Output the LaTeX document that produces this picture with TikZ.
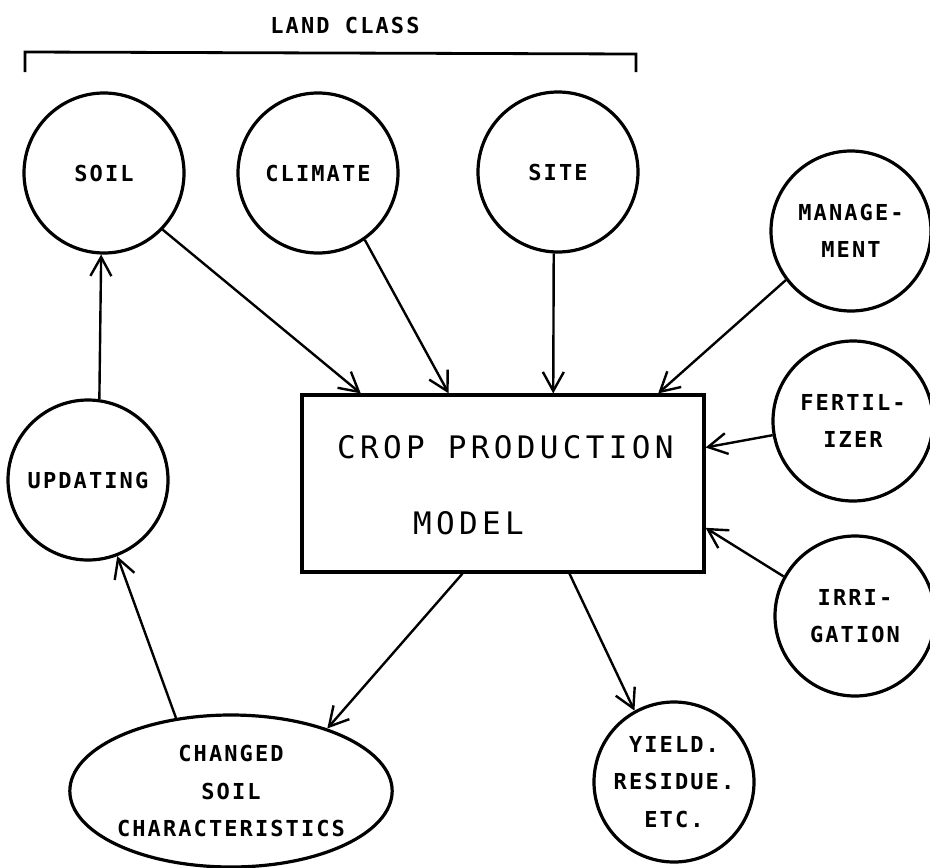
\documentclass[tikz,border=0pt]{standalone}
\usepackage{fontspec}
\newfontfamily\plotfont[LetterSpace=9.5]{DejaVu Sans Mono}
\newfontfamily\boxfont[LetterSpace=14]{DejaVu Sans Mono}
\usetikzlibrary{arrows.meta,shapes.geometric,calc}
\tikzset{
  txt/.style={font=\plotfont\bfseries\fontsize{22}{37.5}\selectfont,align=center},
  bigtxt/.style={font=\boxfont\fontsize{31}{31}\selectfont,inner sep=0pt},
  bubble/.style={circle,draw,line width=3.2pt,minimum size=160pt,inner sep=0pt,txt},
  arr/.style={line width=2.4pt,-{Straight Barb[length=19pt,width=21pt,line width=2.4pt]}}
}
\begin{document}
\begin{tikzpicture}[x=1pt,y=-1pt]
\useasboundingbox (0,0) rectangle (930,868);

% land class bracket over the three site factors
\node[txt] (landclass) at (345,25) {LAND CLASS};
\draw[line width=2.8pt] (25,72) -- (25,52) -- (636,54) -- (636,72);

% input circles
\node[bubble] (soil)    at (104,173) {SOIL};
\node[bubble] (climate) at (318,173) {CLIMATE};
\node[bubble] (site)    at (558,172) {SITE};
\node[bubble] (mgmt)    at (851,231) {MANAGE-\\MENT};
\node[bubble] (fert)    at (853,421) {FERTIL-\\IZER};
\node[bubble] (irrig)   at (855,616) {IRRI-\\GATION};

% model box
\node[draw,line width=3.2pt,minimum width=402pt,minimum height=177pt,inner sep=0pt] (box) at (503,483.5) {};
\node[bigtxt,anchor=base west] (crop)  at (337,458) {CROP PRODUCTION};
\node[bigtxt,anchor=base west] (model) at (413,534) {MODEL};

% feedback loop and outputs
\node[bubble] (upd)   at (88,480)  {UPDATING};
\node[bubble] (yield) at (674,782) {YIELD.\\RESIDUE.\\ETC.};
\node[ellipse,draw,line width=3.2pt,minimum width=312pt,minimum height=152pt,inner sep=0pt,txt] (changed) at (231,791) {CHANGED\\SOIL\\CHARACTERISTICS};

% arrow end points on the box border
\coordinate (t1) at ($(box.north west)!0.149!(box.north east)$);
\coordinate (t2) at ($(box.north west)!0.366!(box.north east)$);
\coordinate (t3) at ($(box.north west)!0.624!(box.north east)$);
\coordinate (t4) at ($(box.north west)!0.883!(box.north east)$);
\coordinate (r1) at ($(box.north east)!0.30!(box.south east)$);
\coordinate (r2) at ($(box.north east)!0.746!(box.south east)$);
\coordinate (b1) at ($(box.south west)!0.40!(box.south east)$);
\coordinate (b2) at ($(box.south west)!0.664!(box.south east)$);

\draw[arr] (soil.-44)   -- (t1);
\draw[arr] (climate.-55) -- (t2);
\draw[arr] (site.-93)   -- (t3);
\draw[arr] (mgmt.-143)  -- (t4);
\draw[arr] (fert.190)   -- (r1);
\draw[arr] (irrig.151)  -- (r2);
\draw[arr] (b1) -- (changed.33.5);
\draw[arr] (b2) -- (yield.119);
\draw[arr] (changed.127) -- (upd.-69);
\draw[arr] (upd.82) -- (soil.-92);
\end{tikzpicture}
\end{document}
